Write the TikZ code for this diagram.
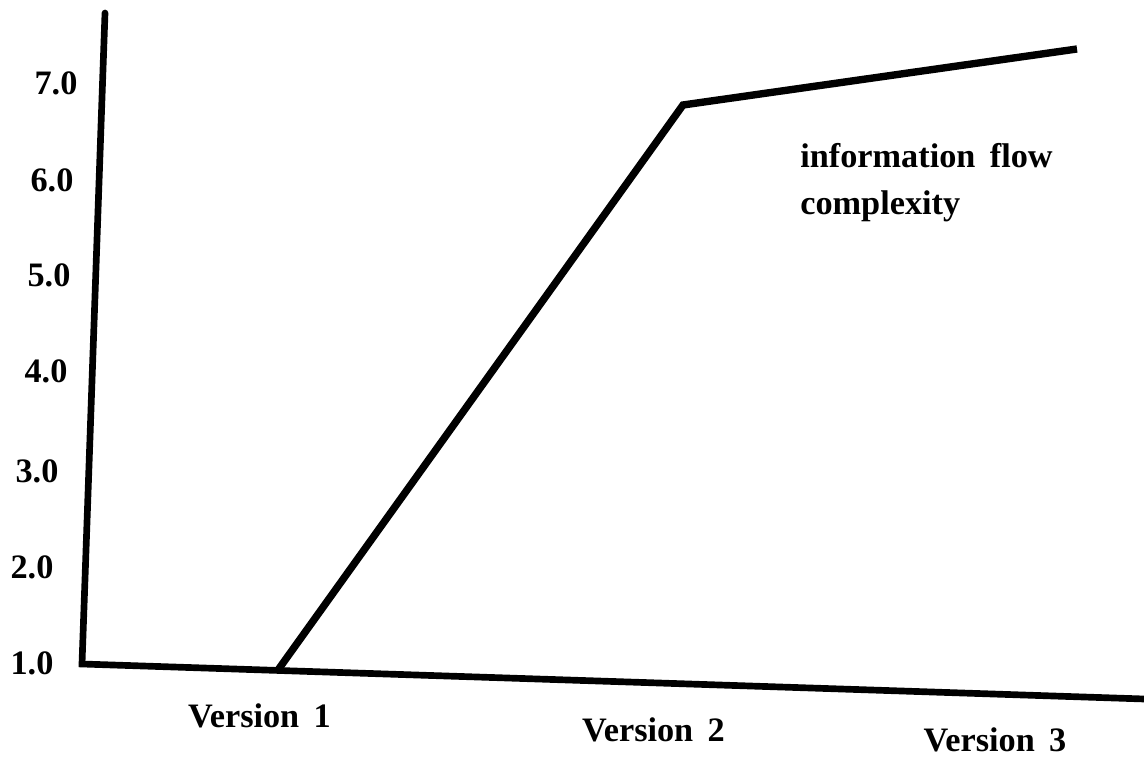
\documentclass[tikz,border=0pt]{standalone}
\usepackage{fontspec}
\setmainfont{Liberation Serif}
\usetikzlibrary{positioning}

\tikzset{
  axisline/.style={line width=3.8pt,line cap=round,line join=miter},
  curveline/.style={line width=4.2pt,line join=miter},
  lbl/.style={inner sep=0pt,font={\fontsize{19.5}{24}\selectfont\bfseries\spaceskip=0.42em}}
}

\begin{document}
\begin{tikzpicture}
\useasboundingbox (0,0) rectangle (22.88,15.22);

% axes
\coordinate (ytop) at (2.10,14.96);
\coordinate (origin) at (1.64,1.94);
\coordinate (xend) at (22.88,1.24);
\draw[axisline] (ytop) -- (origin) -- (xend);

% complexity curve
\coordinate (v1) at (5.56,1.82);
\coordinate (v2) at (13.66,13.12);
\coordinate (v3) at (21.54,14.24);
\draw[curveline] (v1) -- (v2) -- (v3);

% y labels
\node[lbl] (y7) at (1.12,13.56) {7.0};
\node[lbl] (y6) at (1.04,11.62) {6.0};
\node[lbl] (y5) at (0.98,9.72) {5.0};
\node[lbl] (y4) at (0.92,7.80) {4.0};
\node[lbl] (y3) at (0.74,5.80) {3.0};
\node[lbl] (y2) at (0.64,3.88) {2.0};
\node[lbl] (y1) at (0.64,1.96) {1.0};

% x labels
\node[lbl,anchor=base] (ver1) at (5.19,0.66) {Version 1};
\node[lbl,anchor=base] (ver2) at (13.07,0.38) {Version 2};
\node[lbl,anchor=base] (ver3) at (19.90,0.18) {Version 3};

% curve label
\node[lbl,anchor=base west] (flow) at (16.0,11.86) {information flow};
\node[lbl,anchor=base west] (cplx) at (16.0,10.92) {complexity};
\end{tikzpicture}
\end{document}
